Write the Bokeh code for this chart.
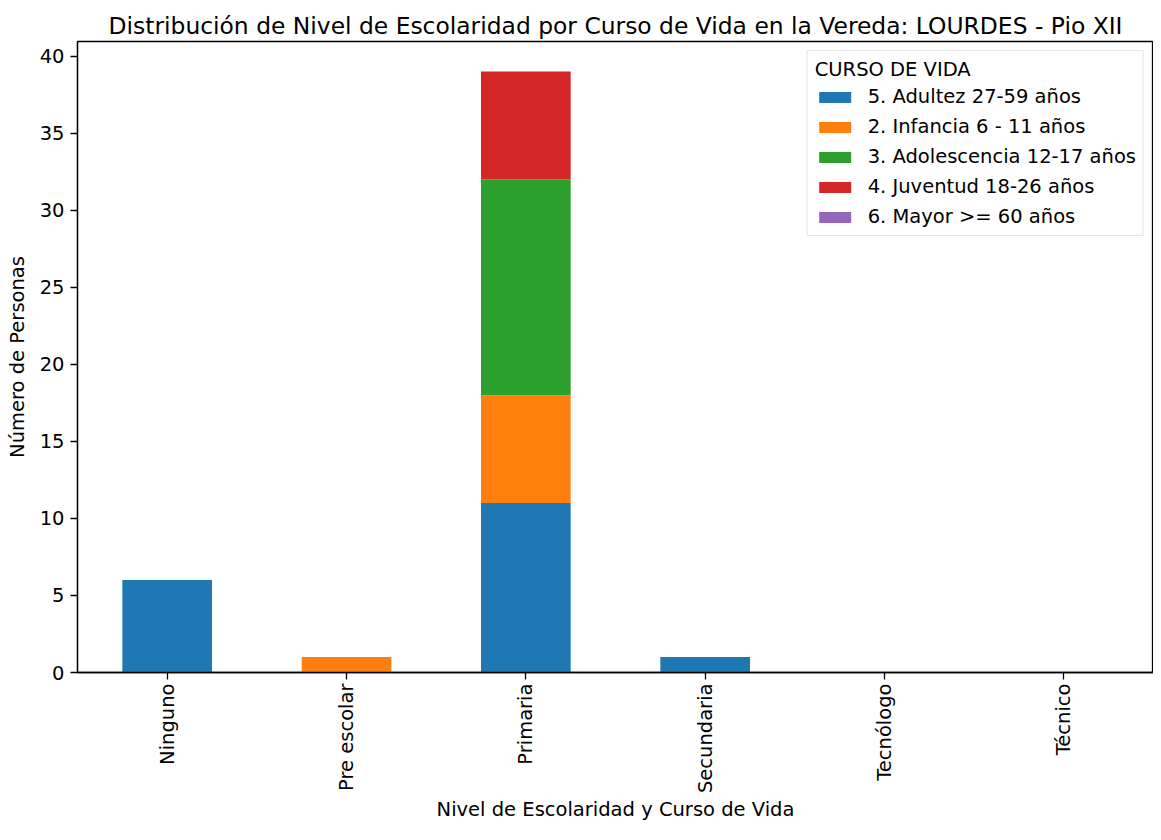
import math
from bokeh.plotting import figure
from bokeh.models import FactorRange, Range1d, Legend, SingleIntervalTicker
from bokeh.embed import file_html
from bokeh.resources import INLINE

categories = ["Ninguno", "Pre escolar", "Primaria", "Secundaria", "Tecnólogo", "Técnico"]
series_names = ["5. Adultez 27-59 años", "2. Infancia 6 - 11 años", "3. Adolescencia 12-17 años",
                "4. Juventud 18-26 años", "6. Mayor >= 60 años"]
adultez = [6, 0, 11, 1, 0, 0]
infancia = [0, 1, 7, 0, 0, 0]
adolescencia = [0, 0, 14, 0, 0, 0]
juventud = [0, 0, 7, 0, 0, 0]
mayor = [0, 0, 0, 0, 0, 0]
colors = ["#1f77b4", "#ff7f0e", "#2ca02c", "#d62728", "#9467bd"]

keys = ["adultez", "infancia", "adolescencia", "juventud", "mayor"]
data = dict(cat=categories, adultez=adultez, infancia=infancia,
            adolescencia=adolescencia, juventud=juventud, mayor=mayor)

FONT = "DejaVu Sans"
FS = "19.5px"

p = figure(x_range=FactorRange(*categories, range_padding=0),
           y_range=Range1d(0, 40.95),
           width=1153, height=824, output_backend="svg", toolbar_location=None,
           min_border_left=77, min_border_right=0, min_border_top=41, min_border_bottom=4)

p.title.text = "Distribución de Nivel de Escolaridad por Curso de Vida en la Vereda: LOURDES - Pio XII"
p.title.text_font = FONT
p.title.text_font_size = "23.4px"
p.title.text_font_style = "normal"
p.title.text_color = "black"
p.title.align = "center"
p.title.standoff = 4

renderers = p.vbar_stack(keys, x="cat", width=0.5, color=colors, source=data, line_width=0)

legend = Legend(items=[(n, [r]) for n, r in zip(series_names, renderers)],
                location="top_right")
legend.title = "CURSO DE VIDA"
legend.title_text_font = FONT
legend.title_text_font_size = FS
legend.title_text_font_style = "normal"
legend.title_text_color = "black"
legend.title_standoff = 4
legend.label_text_font = FONT
legend.label_text_font_size = FS
legend.label_text_color = "black"
legend.glyph_width = 40
legend.glyph_height = 14
legend.label_height = 23
legend.label_standoff = 13
legend.spacing = 7
legend.padding = 7
legend.margin = 9
legend.border_line_color = "#cccccc"
legend.border_line_width = 1
legend.background_fill_alpha = 0.8
p.add_layout(legend, "center")

p.xgrid.visible = False
p.ygrid.visible = False
p.outline_line_color = "black"
p.outline_line_width = 1.3

p.yaxis.ticker = SingleIntervalTicker(interval=5)
p.yaxis.minor_tick_line_color = None
p.yaxis.axis_label = "Número de Personas"
p.xaxis.axis_label = "Nivel de Escolaridad y Curso de Vida"
p.xaxis.major_label_orientation = math.pi / 2
p.xaxis.group_text_font_size = FS

for ax in (p.xaxis[0], p.yaxis[0]):
    ax.axis_line_color = "black"
    ax.axis_line_width = 1.3
    ax.major_tick_line_color = "black"
    ax.major_tick_line_width = 1.3
    ax.major_tick_out = 7
    ax.major_tick_in = 0
    ax.major_label_text_font = FONT
    ax.major_label_text_font_size = FS
    ax.major_label_text_color = "black"
    ax.axis_label_text_font = FONT
    ax.axis_label_text_font_size = FS
    ax.axis_label_text_font_style = "normal"
    ax.axis_label_text_color = "black"

p.xaxis.major_label_standoff = 4
p.yaxis.major_label_standoff = 6
p.xaxis.axis_label_standoff = 2
p.yaxis.axis_label_standoff = 8

open("out.html", "w").write(file_html(p, INLINE))
